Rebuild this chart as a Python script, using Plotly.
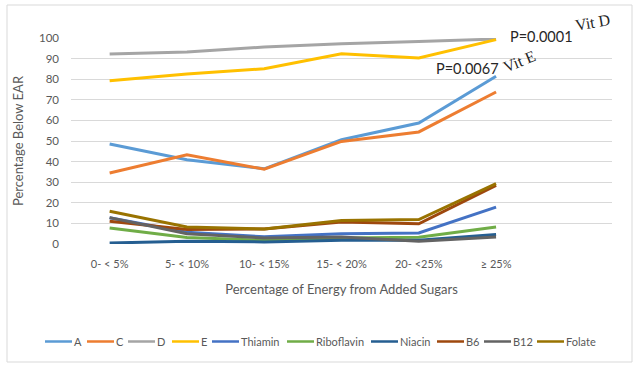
import plotly.graph_objects as go

categories = ["0- < 5%", "5- < 10%", "10- < 15%", "15- < 20%", "20- <25%", "≥ 25%"]
A = [48.5, 40.9, 36.5, 50.6, 58.7, 81.4]
C = [34.5, 43.3, 36.3, 49.8, 54.4, 73.8]
D = [92.2, 93.2, 95.6, 97.2, 98.3, 99.5]
E = [79.3, 82.5, 85.1, 92.4, 90.3, 99.2]
Thiamin = [12.7, 5.7, 3.5, 5.0, 5.4, 17.9]
Riboflavin = [7.8, 3.2, 1.8, 2.9, 3.3, 8.3]
Niacin = [0.5, 1.3, 1.0, 1.8, 1.8, 4.6]
B6 = [11.0, 7.0, 7.3, 10.7, 9.8, 28.5]
B12 = [12.8, 5.0, 2.9, 3.4, 1.3, 3.4]
Folate = [15.9, 8.3, 7.3, 11.4, 11.9, 29.3]
y_ticks = [0, 10, 20, 30, 40, 50, 60, 70, 80, 90, 100]

series = [
    ("A", A, "#5B9BD5"),
    ("C", C, "#ED7D31"),
    ("D", D, "#A5A5A5"),
    ("E", E, "#FFC000"),
    ("Thiamin", Thiamin, "#4472C4"),
    ("Riboflavin", Riboflavin, "#70AD47"),
    ("Niacin", Niacin, "#255E91"),
    ("B6", B6, "#9E480E"),
    ("B12", B12, "#636363"),
    ("Folate", Folate, "#997300"),
]

# left pixel of each legend key line (layout positions only)
legend_px = [45, 87, 128, 172, 212, 287, 371, 437, 484, 537]
LEG_Y = 341.5
KEY_LEN = 27

xs = list(range(len(categories)))
FONT = "Lato"
GREY = "#595959"

# plot area in pixels: x 71..612, y 38..244
L, R, T, B = 71, 612, 38, 244
W, H = 639, 366


def px_x(p):
    return (p - L) / (R - L)


def px_y(p):
    return (B - p) / (B - T)


fig = go.Figure()
shapes = [dict(type="rect", xref="paper", yref="paper",
               x0=px_x(7), x1=px_x(632), y0=px_y(362), y1=px_y(5),
               line=dict(color="#D9D9D9", width=1), layer="below")]
annotations = []

for i, (name, vals, col) in enumerate(series):
    fig.add_trace(go.Scatter(x=xs, y=vals, name=name, mode="lines",
                             line=dict(color=col, width=3), showlegend=False))
    # legend key + label
    x0 = legend_px[i]
    shapes.append(dict(type="line", xref="paper", yref="paper",
                       x0=px_x(x0), x1=px_x(x0 + KEY_LEN),
                       y0=px_y(LEG_Y), y1=px_y(LEG_Y),
                       line=dict(color=col, width=2.5)))
    annotations.append(dict(text=name, xref="paper", yref="paper",
                            x=px_x(x0 + KEY_LEN + 1), y=px_y(LEG_Y),
                            xanchor="left", yanchor="middle", showarrow=False,
                            borderpad=0,
                            font=dict(family=FONT, size=11, color=GREY)))

annotations += [
    dict(text="P=0.0001", x=px_x(508), y=px_y(36), xref="paper", yref="paper",
         xanchor="left", yanchor="middle", showarrow=False,
         font=dict(family=FONT, size=14.5, color="#262626")),
    dict(text="P=0.0067", x=px_x(501), y=px_y(68), xref="paper", yref="paper",
         xanchor="right", yanchor="middle", showarrow=False,
         font=dict(family=FONT, size=14.5, color="#262626")),
    dict(text="Vit D", x=px_x(592), y=px_y(22), xref="paper", yref="paper",
         xanchor="center", yanchor="middle", showarrow=False, textangle=-10,
         font=dict(family="Liberation Serif", size=16, color="#262626")),
    dict(text="Vit E", x=px_x(519), y=px_y(62), xref="paper", yref="paper",
         xanchor="center", yanchor="middle", showarrow=False, textangle=-22,
         font=dict(family="Liberation Serif", size=16, color="#262626")),
]

fig.update_layout(
    width=W, height=H,
    margin=dict(l=L, r=W - R, t=T, b=H - B, autoexpand=False),
    paper_bgcolor="white", plot_bgcolor="white",
    font=dict(family=FONT, size=11, color=GREY),
    showlegend=False,
    xaxis=dict(range=[-0.5, 6.5], tickvals=xs, ticktext=categories,
               showgrid=False, zeroline=False, showline=False,
               ticks="", ticklabelstandoff=12, tickangle=0,
               tickfont=dict(size=11, color=GREY),
               title=dict(text="Percentage of Energy from Added Sugars",
                          font=dict(size=13, color=GREY), standoff=15)),
    yaxis=dict(range=[0, 100], tickvals=y_ticks, showgrid=True,
               gridcolor="#D9D9D9", gridwidth=1, zeroline=False, showline=False,
               ticks="", ticklabelstandoff=11,
               tickfont=dict(size=11.5, color=GREY),
               title=dict(text="Percentage Below EAR",
                          font=dict(size=13, color=GREY), standoff=12)),
    shapes=shapes,
    annotations=annotations,
)

fig.write_html("out.html",
               config={"displayModeBar": False},
               post_script="document.body.style.margin='0';"
                           "document.body.style.overflow='hidden';")
